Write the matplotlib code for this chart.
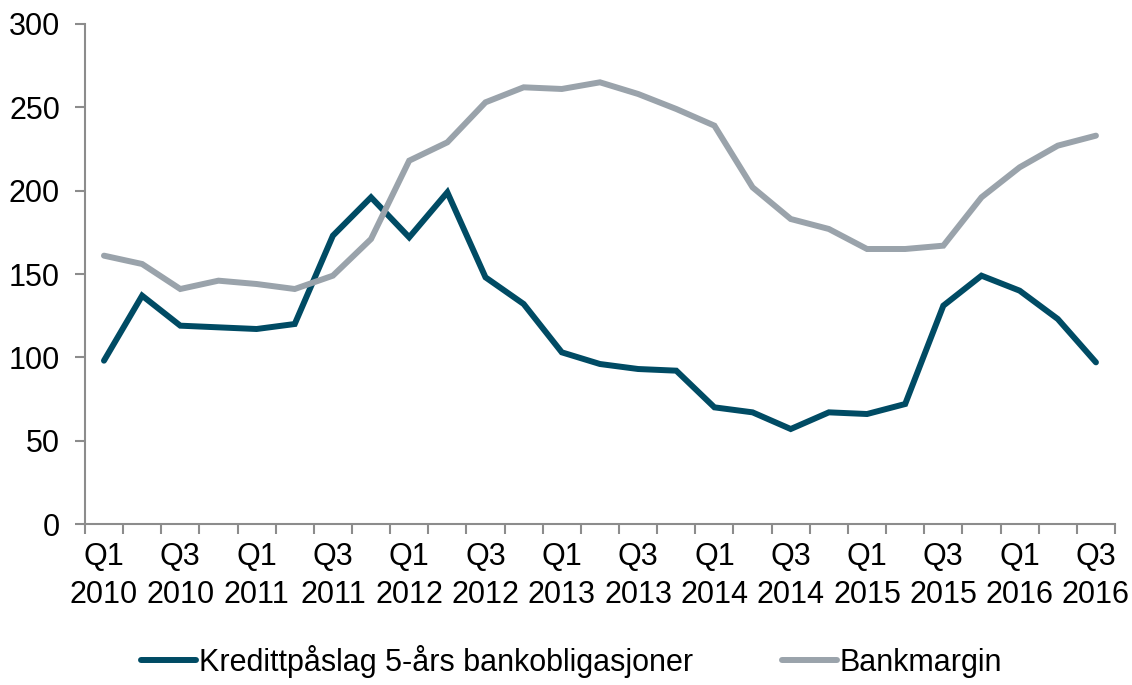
import numpy as np
import matplotlib.pyplot as plt

plt.rcParams['font.family'] = ['Liberation Sans', 'DejaVu Sans']

# quarters Q1 2010 .. Q3 2016
quarters = [f"Q{q}\n{y}" for y in range(2010, 2017) for q in range(1, 5)][:27]

kredittpaslag = [98, 137, 119, 118, 117, 120, 173, 196, 172, 199,
                 148, 132, 103, 96, 93, 92, 70, 67, 57, 67,
                 66, 72, 131, 149, 140, 123, 97]
bankmargin = [161, 156, 141, 146, 144, 141, 149, 171, 218, 229,
              253, 262, 261, 265, 258, 249, 239, 202, 183, 177,
              165, 165, 167, 196, 214, 227, 233]

dark = '#004b64'
grey = '#9aa3ab'
axis_col = '#8c8c8c'

fig = plt.figure(figsize=(11.32, 6.85), dpi=100)
ax = fig.add_axes([0.075, 0.235, 0.91, 0.73])

x = np.arange(len(quarters))
ax.plot(x, kredittpaslag, color=dark, lw=4.3, label='Kredittpåslag 5-års bankobligasjoner',
        solid_joinstyle='miter', solid_capstyle='round')
ax.plot(x, bankmargin, color=grey, lw=4.3, label='Bankmargin',
        solid_joinstyle='miter', solid_capstyle='round')

ax.set_xlim(-0.5, len(quarters) - 0.5)
ax.set_ylim(0, 300)
ax.set_yticks(np.arange(0, 301, 50))

ax.set_xticks(x[::2])
ax.set_xticklabels(quarters[::2], linespacing=1.35)
ax.set_xticks(np.arange(-0.5, len(quarters)), minor=True)
ax.tick_params(axis='x', which='major', length=0, pad=13, labelsize=22)
ax.tick_params(axis='x', which='minor', length=7, width=1.5, color=axis_col)
ax.tick_params(axis='y', length=7, width=1.5, color=axis_col, labelsize=22, pad=11)

for s in ['top', 'right']:
    ax.spines[s].set_visible(False)
for s in ['left', 'bottom']:
    ax.spines[s].set_color(axis_col)
    ax.spines[s].set_linewidth(1.5)

fig.legend(loc='lower center', ncol=2, frameon=False, fontsize=22,
           bbox_to_anchor=(0.505, -0.03), handlelength=1.8, handletextpad=0.1,
           columnspacing=2.9)

fig.savefig('out.png', dpi=100)
